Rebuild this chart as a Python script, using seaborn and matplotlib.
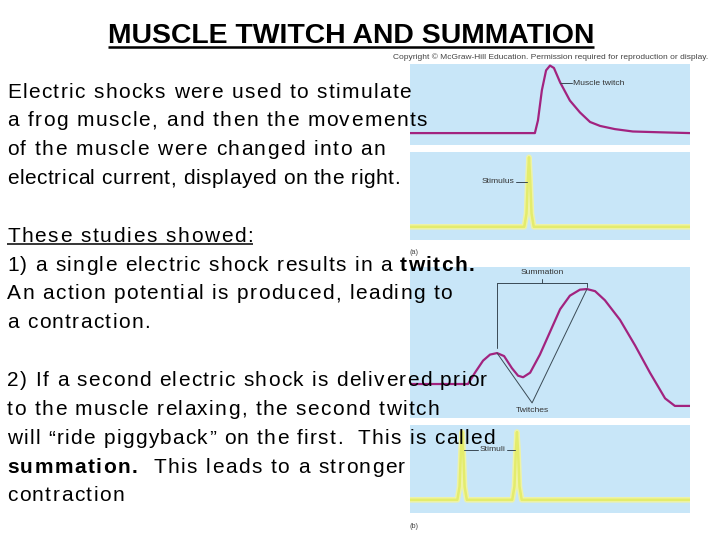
import matplotlib
matplotlib.use("Agg")
import matplotlib.pyplot as plt
import seaborn as sns
import numpy as np
from matplotlib.font_manager import FontProperties, findfont
from matplotlib.ft2font import FT2Font

sns.set_theme(style="white")
plt.rcParams['font.family'] = ['Liberation Sans', 'DejaVu Sans']
plt.rcParams['text.color'] = 'black'

# ---------------- data ----------------
twitch_t = [0, 44.6, 45.7, 47.1, 48.6, 50.0, 51.4, 53.6, 57.1, 60.7, 64.3, 67.9, 73.2, 79.6, 89.3, 100]
twitch_v = [0.15, 0.15, 0.31, 0.69, 0.94, 1.0, 0.97, 0.79, 0.56, 0.41, 0.29, 0.24, 0.20, 0.17, 0.16, 0.15]

stim_t = [0, 40.8, 41.6, 42.1, 42.5, 42.9, 43.4, 44.2, 100]
stim_v = [0.15, 0.15, 0.30, 0.70, 0.94, 0.70, 0.30, 0.15, 0.15]

summ_t = [0, 20.7, 23.2, 26.1, 28.6, 31.1, 33.6, 36.4, 38.6, 40.4, 42.9, 46.4, 50.0, 53.6,
          57.1, 60.7, 63.2, 66.1, 69.6, 75.0, 80.4, 85.7, 91.1, 94.6, 100]
summ_v = [0.225, 0.225, 0.30, 0.38, 0.42, 0.43, 0.41, 0.33, 0.28, 0.27, 0.30, 0.42, 0.57, 0.72,
          0.81, 0.85, 0.854, 0.84, 0.78, 0.65, 0.48, 0.30, 0.13, 0.08, 0.08]

stimuli_t = [0, 16.9, 17.7, 18.2, 18.6, 19.0, 19.5, 20.3, 36.5, 37.3, 37.8, 38.2, 38.6, 39.1, 39.9, 100]
stimuli_v = [0.15, 0.15, 0.30, 0.70, 0.92, 0.70, 0.30, 0.15, 0.15, 0.30, 0.70, 0.92, 0.70, 0.30, 0.15, 0.15]

title = "MUSCLE TWITCH AND SUMMATION"
copyright_txt = "Copyright \u00a9 McGraw-Hill Education. Permission required for reproduction or display."

body_lines = [
    [("Electric shocks were used to stimulate", "normal")],
    [("a frog muscle, and then the movements", "normal")],
    [("of the muscle were changed into an", "normal")],
    [("electrical current, displayed on the right.", "normal")],
    None,
    [("These studies showed:", "normal")],
    [("1) a single electric shock results in a ", "normal"), ("twitch.", "bold")],
    [("An action potential is produced, leading to", "normal")],
    [("a contraction.", "normal")],
    None,
    [("2) If a second electric shock is delivered prior", "normal")],
    [("to the muscle relaxing, the second twitch", "normal")],
    [("will \u201cride piggyback\u201d on the first.  This is called", "normal")],
    [("summation.", "bold"), ("  This leads to a stronger", "normal")],
    [("contraction", "normal")],
]

# layout: right edge (px) of each body line as seen in the reference
line_right = [411, 427, 385, 400, None, 253, 474, 452, 150, None, 487, 439, 495, 405, 124]

# ---------------- figure ----------------
W, H = 720, 540
DPI = 100
fig = plt.figure(figsize=(7.2, 5.4), dpi=DPI)
fig.patch.set_facecolor("white")

BLUE = "#c8e6f8"
PURPLE = "#a2237f"
YELLOW = "#e4ec6c"
GLOW = "#eef3a6"
ANN = "#3a4a55"
LBL = "#333333"
LFS = 6.1


def px_axes(x0, y0, x1, y1, ylim=(0, 1.0)):
    ax = fig.add_axes([x0 / W, 1 - y1 / H, (x1 - x0) / W, (y1 - y0) / H])
    ax.set_facecolor(BLUE)
    for s in ax.spines.values():
        s.set_visible(False)
    ax.set_xlim(0, 100)
    ax.set_ylim(*ylim)
    ax.set_xticks([])
    ax.set_yticks([])
    return ax


def finish(ax):
    ax.set_xlabel("")
    ax.set_ylabel("")
    leg = ax.get_legend()
    if leg:
        leg.remove()


# panel 1 : muscle twitch
ax1 = px_axes(410, 64, 690, 145, ylim=(0, 1.02))
sns.lineplot(x=twitch_t, y=twitch_v, ax=ax1, color=PURPLE, lw=1.6)
finish(ax1)
ax1.plot([53.6, 58.0], [0.775, 0.775], color=ANN, lw=0.7)
ax1.text(58.3, 0.775, "Muscle twitch", fontsize=LFS, color=LBL, va="center", ha="left")

# panel 2 : stimulus
ax2 = px_axes(410, 152, 690, 240)
sns.lineplot(x=stim_t, y=stim_v, ax=ax2, color=GLOW, lw=4.0)
sns.lineplot(x=stim_t, y=stim_v, ax=ax2, color=YELLOW, lw=1.8)
finish(ax2)
ax2.plot([37.9, 41.8], [0.66, 0.66], color=ANN, lw=0.7)
ax2.text(37.3, 0.66, "Stimulus", fontsize=LFS, color=LBL, va="center", ha="right")

# panel 3 : summation
ax3 = px_axes(410, 267, 690, 418)
sns.lineplot(x=summ_t, y=summ_v, ax=ax3, color=PURPLE, lw=1.6)
finish(ax3)
sv = np.array(summ_v)
st = np.array(summ_t)
i2 = int(np.argmax(sv))
i1 = int(np.argmax(sv[:i2 - 5]))
p1 = (st[i1], sv[i1])
p2 = (st[i2], sv[i2])
top = 0.894
ax3.plot([p1[0], p1[0]], [p1[1] + 0.035, top], color=ANN, lw=0.7)
ax3.plot([p1[0], p2[0]], [top, top], color=ANN, lw=0.7)
ax3.plot([p2[0], p2[0]], [top, top - 0.025], color=ANN, lw=0.7)
mid = (p1[0] + p2[0]) / 2
ax3.plot([mid, mid], [top, top + 0.028], color=ANN, lw=0.7)
ax3.text(mid, 0.962, "Summation", fontsize=LFS, color=LBL, ha="center", va="center")
vx, vy = 43.6, 0.10
ax3.plot([p1[0], vx, p2[0]], [p1[1], vy, p2[1]], color=ANN, lw=0.7)
ax3.text(vx, 0.05, "Twitches", fontsize=LFS, color=LBL, ha="center", va="center")

# panel 4 : stimuli
ax4 = px_axes(410, 425, 690, 513)
sns.lineplot(x=stimuli_t, y=stimuli_v, ax=ax4, color=GLOW, lw=4.0)
sns.lineplot(x=stimuli_t, y=stimuli_v, ax=ax4, color=YELLOW, lw=1.8)
finish(ax4)
ax4.plot([19.3, 24.2], [0.716, 0.716], color=ANN, lw=0.7)
ax4.plot([34.7, 37.6], [0.716, 0.716], color=ANN, lw=0.7)
ax4.text(29.45, 0.716, "Stimuli", fontsize=LFS, color=LBL, ha="center", va="center")

# small labels
fig.text(410 / W, 1 - 252 / H, "(a)", fontsize=5.2, color="#444444", ha="left", va="center")
fig.text(410 / W, 1 - 526 / H, "(b)", fontsize=5.2, color="#444444", ha="left", va="center")
fig.text(708 / W, 1 - 59 / H, copyright_txt, fontsize=6.0, color="#444444", ha="right", va="baseline")

# ---------------- text overlay ----------------
overlay = fig.add_axes([0, 0, 1, 1], facecolor="none")
overlay.set_xlim(0, W)
overlay.set_ylim(H, 0)
overlay.axis("off")

_font_cache = {}


def char_advances(s, size_pt, weight):
    if weight not in _font_cache:
        fp = FontProperties(family="Liberation Sans", weight=weight)
        _font_cache[weight] = FT2Font(findfont(fp))
    font = _font_cache[weight]
    font.set_size(size_pt, DPI)
    return [font.load_char(ord(c)).linearHoriAdvance / 65536.0 for c in s]


def draw_tracked(x, y, runs, size_pt, right=None, tracking=1.5):
    """Draw runs of text with extra letter spacing; returns (x_start, x_end)."""
    advs = [char_advances(s, size_pt, w) for s, w in runs]
    n = sum(len(s) for s, _ in runs)
    natural = sum(sum(a) for a in advs)
    if right is not None and n > 1:
        tracking = (right - x - natural) / (n - 1)
    x0 = x
    for (s, weight), adv in zip(runs, advs):
        for c, a in zip(s, adv):
            if c != " ":
                overlay.text(x, y, c, fontsize=size_pt, fontweight=weight,
                             ha="left", va="baseline", color="black")
            x += a + tracking
    return x0, x - tracking


FS = 15.0
LINE0 = 97.5
LSTEP = 28.85

for i, runs in enumerate(body_lines):
    if runs is None:
        continue
    y = LINE0 + i * LSTEP
    xa, xb = draw_tracked(7, y, runs, FS, right=line_right[i])
    if runs[0][0].startswith("These"):
        overlay.plot([xa, xb], [y + 2.6, y + 2.6], color="black", lw=1.1, solid_capstyle="butt")

t_title = overlay.text(351, 43.3, title, fontsize=20.4, fontweight="bold", ha="center",
                       va="baseline", color="black")
fig.canvas.draw()
inv = overlay.transData.inverted()
bb = t_title.get_window_extent()
(xa, _), (xb, _) = inv.transform([[bb.x0, bb.y0], [bb.x1, bb.y1]])
overlay.plot([xa, xb], [47.0, 47.0], color="black", lw=1.8, solid_capstyle="butt")

fig.savefig("out.png", dpi=DPI)
